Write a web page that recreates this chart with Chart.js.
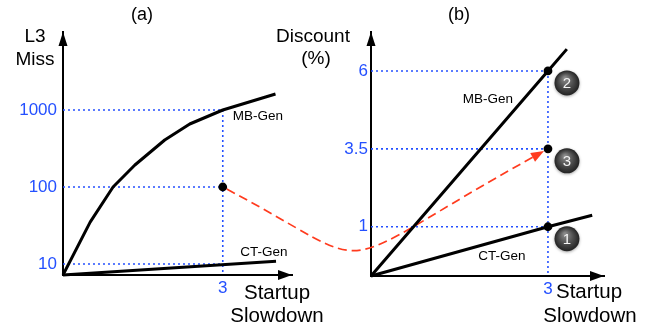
<!DOCTYPE html>
<html>
<head>
<meta charset="utf-8">
<script src="https://cdn.jsdelivr.net/npm/chart.js@4.4.1/dist/chart.umd.min.js"></script>
<style>
  html, body { margin: 0; padding: 0; background: #fff; }
  #wrap { position: relative; width: 651px; height: 330px; }
  #wrap canvas { position: absolute; left: 0; top: 0; }
</style>
</head>
<body>
<div id="wrap">
  <canvas id="chartA" width="651" height="330"></canvas>
  <canvas id="chartB" width="651" height="330"></canvas>
</div>
<script>
// ---- Panel (a): L3 misses against startup slowdown (log scale) ----
const slowdownTicksA = [3];
const missTicks = [10, 100, 1000];
const mbGenSlowdownA = [0, 0.51, 0.94, 1.35, 1.91, 2.38, 3, 3.99];
const mbGenMissA = [7.2, 35, 100, 193, 408, 658, 1000, 1615];
const ctGenSlowdownA = [0, 4];
const ctGenMissA = [7.2, 10.9];
const pickedSlowdownA = [3];
const pickedMissA = [100];

// ---- Panel (b): discount against startup slowdown ----
const slowdownTicksB = [3];
const discountTicks = [1, 3.5, 6];
const mbGenSlowdownB = [0, 3, 3.32];
const mbGenDiscountB = [-0.58, 6, 6.7];
const ctGenSlowdownB = [0, 3, 3.75];
const ctGenDiscountB = [-0.58, 1, 1.37];
const markSlowdownB = [3, 3, 3];
const markDiscountB = [6, 3.5, 1];
const markTags = ['2', '3', '1'];

const FONT = '"Liberation Sans", Arial, Helvetica, sans-serif';
const BLUE = '#2450ff';
const RED = '#ff3b1e';

const pts = (xs, ys) => xs.map((x, i) => ({ x, y: ys[i] }));

function lineSet(label, data, color, width, dash) {
  return {
    label, data,
    borderColor: color, backgroundColor: color,
    borderWidth: width, borderDash: dash || [],
    borderJoinStyle: 'round',
    pointRadius: 0, tension: 0, clip: false, fill: false
  };
}
function dotSet(data) {
  return {
    label: 'marked', data, showLine: false,
    pointRadius: 4.4, pointBackgroundColor: '#000', pointBorderWidth: 0,
    clip: false
  };
}

// Blue dotted guides from each tick value over to the chosen slowdown
function guideSets(ticks, atX, yMin) {
  const sets = ticks.map(v => lineSet('guide', [{ x: 0, y: v }, { x: atX, y: v }], BLUE, 1.6, [2, 3]));
  sets.push(lineSet('guide', [{ x: atX, y: Math.max(...ticks) }, { x: atX, y: yMin }], BLUE, 1.6, [2, 3]));
  return sets;
}

function text(ctx, s, x, y, size, align) {
  ctx.font = size + 'px ' + FONT;
  ctx.textAlign = align || 'center';
  ctx.textBaseline = 'alphabetic';
  ctx.fillStyle = '#000';
  ctx.fillText(s, x, y);
}

function axisArrows(chart) {
  const { ctx, chartArea: a } = chart;
  ctx.save();
  ctx.fillStyle = '#000';
  ctx.beginPath();
  ctx.moveTo(a.left, a.top);
  ctx.lineTo(a.left - 4.5, a.top + 14);
  ctx.lineTo(a.left + 4.5, a.top + 14);
  ctx.closePath();
  ctx.fill();
  ctx.beginPath();
  ctx.moveTo(a.right, a.bottom);
  ctx.lineTo(a.right - 14, a.bottom - 5);
  ctx.lineTo(a.right - 14, a.bottom + 5);
  ctx.closePath();
  ctx.fill();
  ctx.restore();
}

function axisOpts(type, min, max, tickValues, fitKey, fitSize, pad) {
  return {
    type, min, max,
    grid: { display: false, drawTicks: false },
    border: { display: true, color: '#000', width: 2 },
    ticks: {
      color: BLUE, font: { family: FONT, size: 17 }, padding: pad,
      autoSkip: false, maxRotation: 0,
      callback: v => String(v)
    },
    afterBuildTicks: s => { s.ticks = tickValues.map(v => ({ value: v })); },
    afterFit: s => { s[fitKey] = fitSize; }
  };
}

// ---------- Chart (a) ----------
const decorA = {
  id: 'decorA',
  afterDraw(chart) {
    const ctx = chart.ctx;
    axisArrows(chart);
    ctx.save();
    text(ctx, '(a)', 142, 20, 18);
    text(ctx, 'L3', 35, 42, 19);
    text(ctx, 'Miss', 35, 65, 19);
    text(ctx, 'Startup', 277, 299, 20.5);
    text(ctx, 'Slowdown', 277, 322, 20.5);
    text(ctx, 'MB-Gen', 258, 120, 13.5);
    text(ctx, 'CT-Gen', 264, 256, 13.5);
    ctx.restore();
  }
};

const chartA = new Chart(document.getElementById('chartA'), {
  type: 'line',
  data: {
    datasets: [
      dotSet(pts(pickedSlowdownA, pickedMissA)),
      lineSet('MB-Gen', pts(mbGenSlowdownA, mbGenMissA), '#000', 3),
      lineSet('CT-Gen', pts(ctGenSlowdownA, ctGenMissA), '#000', 3),
      ...guideSets(missTicks, 3, 7.2)
    ]
  },
  options: {
    responsive: false, animation: false, devicePixelRatio: 1, events: [],
    layout: { padding: { left: 0, top: 32, right: 359, bottom: 0 } },
    plugins: { legend: { display: false }, tooltip: { enabled: false } },
    scales: {
      x: axisOpts('linear', 0, 4.3, slowdownTicksA, 'height', 55, 3),
      y: axisOpts('logarithmic', 7.2, 10300, missTicks, 'width', 63, 6)
    }
  },
  plugins: [decorA]
});

// ---------- Chart (b) ----------
function badge(ctx, x, y, r, tag) {
  ctx.save();
  ctx.shadowColor = 'rgba(0,0,0,0.35)';
  ctx.shadowBlur = 3;
  ctx.shadowOffsetY = 1;
  const g = ctx.createRadialGradient(x - 2, y - 5, 1, x, y, r);
  g.addColorStop(0, '#8a8a8a');
  g.addColorStop(0.55, '#4d4d4d');
  g.addColorStop(1, '#222');
  ctx.beginPath();
  ctx.arc(x, y, r, 0, Math.PI * 2);
  ctx.fillStyle = g;
  ctx.fill();
  ctx.restore();
  ctx.save();
  ctx.fillStyle = '#f4f4f4';
  ctx.font = '15px ' + FONT;
  ctx.textAlign = 'center';
  ctx.textBaseline = 'middle';
  ctx.fillText(tag, x, y + 1);
  ctx.restore();
}

// Red dashed arrow from the picked point of (a) to the discounted point of (b)
function transferArrow(chart) {
  const ctx = chart.ctx;
  const xa = chartA.scales.x, ya = chartA.scales.y;
  const xb = chart.scales.x, yb = chart.scales.y;
  const p0 = { x: xa.getPixelForValue(pickedSlowdownA[0]), y: ya.getPixelForValue(pickedMissA[0]) };
  const end = { x: xb.getPixelForValue(markSlowdownB[1]), y: yb.getPixelForValue(markDiscountB[1]) };
  const c1 = { x: p0.x + 167, y: p0.y + 88 };
  let c2 = { x: end.x - 228, y: end.y + 126 };
  let ux = end.x - c2.x, uy = end.y - c2.y;
  const ul = Math.hypot(ux, uy); ux /= ul; uy /= ul;
  const tip = { x: end.x - 4.5 * ux, y: end.y - 4.5 * uy };
  c2 = { x: tip.x - 228, y: tip.y + 126 };
  let sx = c1.x - p0.x, sy = c1.y - p0.y;
  const sl = Math.hypot(sx, sy); sx /= sl; sy /= sl;
  const start = { x: p0.x + 4.5 * sx, y: p0.y + 4.5 * sy };
  const base = { x: tip.x - 10 * ux, y: tip.y - 10 * uy };

  ctx.save();
  ctx.strokeStyle = RED;
  ctx.lineWidth = 1.7;
  ctx.setLineDash([9, 5]);
  ctx.beginPath();
  ctx.moveTo(start.x, start.y);
  ctx.bezierCurveTo(c1.x, c1.y, c2.x, c2.y, base.x, base.y);
  ctx.stroke();
  ctx.setLineDash([]);
  ctx.fillStyle = RED;
  ctx.beginPath();
  ctx.moveTo(tip.x, tip.y);
  ctx.lineTo(tip.x - 13 * ux - 5 * uy, tip.y - 13 * uy + 5 * ux);
  ctx.lineTo(tip.x - 13 * ux + 5 * uy, tip.y - 13 * uy - 5 * ux);
  ctx.closePath();
  ctx.fill();
  ctx.restore();
}

const decorB = {
  id: 'decorB',
  beforeDatasetsDraw(chart) { transferArrow(chart); },
  afterDraw(chart) {
    const ctx = chart.ctx;
    axisArrows(chart);
    const xb = chart.scales.x, yb = chart.scales.y;
    markTags.forEach((tag, i) => {
      badge(ctx, xb.getPixelForValue(markSlowdownB[i]) + 19, yb.getPixelForValue(markDiscountB[i]) + 12, 12.5, tag);
    });
    ctx.save();
    text(ctx, '(b)', 459, 20, 18);
    text(ctx, 'Discount', 313, 42, 19);
    text(ctx, '(%)', 316, 64, 19);
    text(ctx, 'Startup', 589, 298, 20.5);
    text(ctx, 'Slowdown', 590, 322, 20.5);
    text(ctx, 'MB-Gen', 488, 103, 13.5);
    text(ctx, 'CT-Gen', 502, 260, 13.5);
    ctx.restore();
  }
};

new Chart(document.getElementById('chartB'), {
  type: 'line',
  data: {
    datasets: [
      dotSet(pts(markSlowdownB, markDiscountB)),
      lineSet('MB-Gen', pts(mbGenSlowdownB, mbGenDiscountB), '#000', 3),
      lineSet('CT-Gen', pts(ctGenSlowdownB, ctGenDiscountB), '#000', 3),
      ...guideSets(discountTicks, 3, -0.58)
    ]
  },
  options: {
    responsive: false, animation: false, devicePixelRatio: 1, events: [],
    layout: { padding: { left: 0, top: 32, right: 47, bottom: 0 } },
    plugins: { legend: { display: false }, tooltip: { enabled: false } },
    scales: {
      x: axisOpts('linear', 0, 3.95, slowdownTicksB, 'height', 54, 3),
      y: axisOpts('linear', -0.58, 7.25, discountTicks, 'width', 371, 3)
    }
  },
  plugins: [decorB]
});
</script>
</body>
</html>
